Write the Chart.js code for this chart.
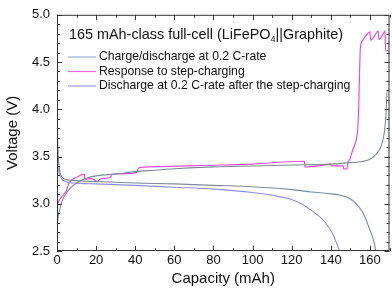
<!DOCTYPE html>
<html>
<head>
<meta charset="utf-8">
<script src="https://cdn.jsdelivr.net/npm/chart.js@4/dist/chart.umd.min.js"></script>
<style>
html,body{margin:0;padding:0;background:#fff;}
#wrap{width:392px;height:296px;position:relative;}
</style>
</head>
<body>
<div id="wrap"><canvas id="c" width="392" height="296"></canvas></div>
<script>
// ---- data ----
const chargeCap = [0,0.5,1.5,3,5,7,10,15,20,30,40,50,60,80,100,120,140,150,155,160,163,165,166.5,167.5,168.2,168.8,169.5];
const chargeV   = [2.75,2.85,2.95,3.05,3.12,3.17,3.22,3.27,3.295,3.315,3.34,3.355,3.37,3.39,3.40,3.41,3.42,3.435,3.445,3.47,3.52,3.58,3.66,3.78,3.95,4.2,4.2];

const dischargeCap = [0,0.3,1,2,4,10,20,40,60,80,100,120,130,140,145,150,153,156,158,160,162,163];
const dischargeV   = [4.2,3.7,3.42,3.3,3.26,3.245,3.235,3.22,3.21,3.195,3.18,3.15,3.125,3.105,3.09,3.05,3.0,2.92,2.83,2.72,2.6,2.5];

const stepCap = [0,0.5,1.5,3,4.8,5.6,6.5,8,10,13.3,14,14.3,17,19,19.8,21,21.8,25,27.5,27.8,35,41,41.4,43,57,73,100,126.5,126.8,135,139.8,140.3,146.3,146.6,148.3,148.6,149.7,150.6,151.4,153,153.8,154.3,154.7,155.1,156,158,160,160.4,162.5,164.2,164.6,166.8,167.7,168,169.5];
const stepV   = [2.92,3.0,3.05,3.09,3.14,3.19,3.23,3.26,3.28,3.31,3.31,3.26,3.265,3.255,3.24,3.235,3.26,3.27,3.285,3.31,3.32,3.335,3.37,3.385,3.395,3.405,3.42,3.45,3.39,3.405,3.42,3.40,3.40,3.37,3.37,3.43,3.47,3.53,3.58,3.68,3.8,4.05,4.4,4.65,4.72,4.78,4.82,4.73,4.78,4.83,4.74,4.8,4.83,4.62,4.62];

const afterCap = [0,0.5,1.5,3,6,20,40,60,80,100,110,120,125,130,135,138,141,143,144.5];
const afterV   = [3.6,3.4,3.3,3.25,3.225,3.21,3.195,3.175,3.155,3.12,3.09,3.045,3.0,2.93,2.85,2.78,2.68,2.58,2.5];

const seriesNames = ["Charge/discharge at 0.2 C-rate","Response to step-charging","Discharge at 0.2 C-rate after the step-charging"];
const xTickLabels = [0,20,40,60,80,100,120,140,160];
const yTickLabels = [2.5,3.0,3.5,4.0,4.5,5.0];

const GRAY = "#7f8b96", PINK = "#e84fd9", BLUE = "#8f8fe6";
const pts = (xs, ys) => xs.map((x,i)=>({x:x, y:ys[i]}));
const FONT = "Liberation Sans, Arial, sans-serif";

const frameTicks = {
  id:'frameTicks',
  afterDraw(chart){
    const {ctx, chartArea:a, scales:{x,y}} = chart;
    ctx.save();
    ctx.strokeStyle = "#333"; ctx.lineWidth = 1;
    ctx.strokeRect(a.left+0.5, a.top+0.5, a.right-a.left-1, a.bottom-a.top-1);
    ctx.beginPath();
    for (let v=0; v<=170; v+=10){
      const px = Math.round(x.getPixelForValue(v))+0.5;
      const L = (v%20===0)?5:3;
      ctx.moveTo(px,a.bottom); ctx.lineTo(px,a.bottom-L);
      ctx.moveTo(px,a.top); ctx.lineTo(px,a.top+L);
    }
    for (let k=25; k<=50; k++){
      const v = k/10;
      const py = Math.round(y.getPixelForValue(v))+0.5;
      const L = (k%5===0)?5:3;
      ctx.moveTo(a.left,py); ctx.lineTo(a.left+L,py);
      ctx.moveTo(a.right,py); ctx.lineTo(a.right-L,py);
    }
    ctx.stroke();
    // legend
    const lx0 = 68, lx1 = 96, tx = 99;
    ctx.fillStyle = "#111";
    ctx.textBaseline = "middle";
    ctx.font = "14.4px " + FONT;
    let t1 = "165 mAh-class full-cell (LiFePO";
    ctx.fillText(t1, 69, 35);
    let w = ctx.measureText(t1).width;
    ctx.font = "9px " + FONT;
    ctx.fillText("4", 69+w, 40);
    let w2 = ctx.measureText("4").width;
    ctx.font = "14.4px " + FONT;
    ctx.fillText("||Graphite)", 69+w+w2, 35);
    const cols = [ "#a3abc9", "#f06ad6", "#9a9ae8"];
    const ys = [57, 71.5, 86];
    ctx.font = "12.2px " + FONT;
    for (let i=0;i<3;i++){
      ctx.strokeStyle = cols[i]; ctx.lineWidth = 1.2;
      ctx.beginPath(); ctx.moveTo(lx0, ys[i]); ctx.lineTo(lx1, ys[i]); ctx.stroke();
      ctx.fillText(seriesNames[i], tx, ys[i]);
    }
    ctx.restore();
  }
};

new Chart(document.getElementById('c'), {
  type:'line',
  data:{
    datasets:[
      {label:seriesNames[0]+" (charge)", data:pts(chargeCap,chargeV), borderColor:GRAY, borderWidth:1.1},
      {label:seriesNames[0]+" (discharge)", data:pts(dischargeCap,dischargeV), borderColor:GRAY, borderWidth:1.1},
      {label:seriesNames[2], data:pts(afterCap,afterV), borderColor:BLUE, borderWidth:1.1},
      {label:seriesNames[1], data:pts(stepCap,stepV), borderColor:PINK, borderWidth:1.2},
    ]
  },
  options:{
    responsive:false, animation:false,
    devicePixelRatio:1,
    elements:{point:{radius:0}, line:{cubicInterpolationMode:'monotone', fill:false}},
    layout:{padding:{top:7, right:2.5, left:0, bottom:0}},
    plugins:{legend:{display:false}, tooltip:{enabled:false}},
    scales:{
      x:{type:'linear', min:0, max:170,
        afterBuildTicks(s){ s.ticks = xTickLabels.map(v=>({value:v})); },
        afterFit(s){ s.height = 45; },
        grid:{display:false, drawTicks:false},
        border:{display:false},
        ticks:{color:"#111", font:{family:FONT, size:13}, padding:2, maxRotation:0, autoSkip:false,
          callback:(v)=>String(v)},
        title:{display:true, text:"Capacity (mAh)", color:"#111", font:{family:FONT, size:15}, padding:{top:0,bottom:8.5}}
      },
      y:{type:'linear', min:2.5, max:5.0,
        afterBuildTicks(s){ s.ticks = yTickLabels.map(v=>({value:v})); },
        afterFit(s){ s.width = 57; },
        grid:{display:false, drawTicks:false},
        border:{display:false},
        ticks:{color:"#111", font:{family:FONT, size:13}, padding:7, autoSkip:false,
          callback:(v)=>Number(v).toFixed(1)},
        title:{display:true, text:"Voltage (V)", color:"#111", font:{family:FONT, size:15}, padding:{top:4,bottom:0}}
      }
    }
  },
  plugins:[frameTicks]
});
</script>
</body>
</html>
